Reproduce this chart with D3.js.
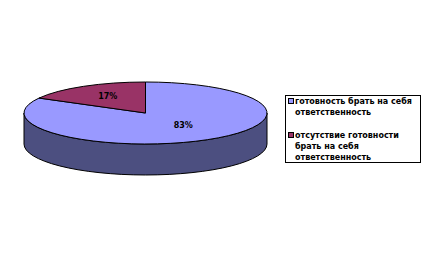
<!DOCTYPE html>
<html lang="ru">
<head>
	<meta charset="utf-8">
	<title>Готовность</title>
	<script src="https://d3js.org/d3.v7.min.js"></script>
	<style>
	body { margin: 0; background: #fff; }
	text { font-family: "DejaVu Sans", Verdana, sans-serif; font-weight: bold; font-size: 8px; fill: #000; }
	</style>
</head>
<body>
	<script>
	// data
	var categories = ["готовность брать на себя ответственность", "отсутствие готовности брать на себя ответственность"];
	var values = [83, 17];
	var labels = ["83%", "17%"];
	var legendLines = [["готовность брать на себя", "ответственность"], ["отсутствие готовности", "брать на себя", "ответственность"]];
	var colors = ["#9999ff", "#993366"];
	var sideColor = "#4c4f80";

	var width = 425, height = 258;
	var cx = 145.5, cy = 113, rx = 121.5, ry = 31, depth = 31;

	var svg = d3.select("body").append("svg")
		.attr("width", width)
		.attr("height", height);

	var pie = d3.pie().sort(null).value(function(d) { return d; });
	var arcs = pie(values);

	function px(a, k) { return cx + (k || 1) * rx * Math.sin(a); }
	function py(a, k) { return cy - (k || 1) * ry * Math.cos(a); }

	// side wall (the front half lies entirely inside the first slice)
	svg.append("path")
		.attr("d", "M" + (cx + rx) + "," + cy +
			" L" + (cx + rx) + "," + (cy + depth) +
			" A" + rx + "," + ry + " 0 0 1 " + (cx - rx) + "," + (cy + depth) +
			" L" + (cx - rx) + "," + cy +
			" A" + rx + "," + ry + " 0 0 0 " + (cx + rx) + "," + cy + " Z")
		.attr("fill", sideColor)
		.attr("stroke", "#000")
		.attr("stroke-width", 1);

	// top face
	svg.selectAll(".slice")
		.data(arcs)
		.enter()
		.append("path")
		.attr("class", "slice")
		.attr("fill", function(d, i) { return colors[i]; })
		.attr("stroke", "#000")
		.attr("stroke-width", 1)
		.attr("d", function(d) {
			var large = (d.endAngle - d.startAngle) > Math.PI ? 1 : 0;
			return "M" + cx + "," + cy +
				" L" + px(d.startAngle) + "," + py(d.startAngle) +
				" A" + rx + "," + ry + " 0 " + large + " 1 " + px(d.endAngle) + "," + py(d.endAngle) + " Z";
		});

	// data labels
	svg.selectAll(".lbl")
		.data(arcs)
		.enter()
		.append("text")
		.attr("class", "lbl")
		.attr("text-anchor", "middle")
		.attr("x", function(d) { var m = (d.startAngle + d.endAngle) / 2; return px(m, 0.61); })
		.attr("y", function(d) { var m = (d.startAngle + d.endAngle) / 2; return py(m, 0.54) + 0.5; })
		.text(function(d, i) { return labels[i]; });

	// legend
	var legend = svg.append("g");
	legend.append("rect")
		.attr("x", 285.5).attr("y", 95.5)
		.attr("width", 135).attr("height", 67)
		.attr("fill", "#fff").attr("stroke", "#000").attr("stroke-width", 1);

	var entryY = [101, 135];
	var item = legend.selectAll(".item")
		.data(categories)
		.enter()
		.append("g")
		.attr("class", "item")
		.attr("transform", function(d, i) { return "translate(288," + entryY[i] + ")"; });

	item.append("rect")
		.attr("x", 0.5).attr("y", -2.5)
		.attr("width", 5).attr("height", 5)
		.attr("fill", function(d, i) { return colors[i]; })
		.attr("stroke", "#000").attr("stroke-width", 1);

	item.each(function(d, i) {
		d3.select(this).selectAll("text")
			.data(legendLines[i])
			.enter()
			.append("text")
			.attr("x", 7)
			.attr("y", function(t, j) { return 3 + j * 11; })
			.text(function(t) { return t; });
	});
	</script>
</body>
</html>
